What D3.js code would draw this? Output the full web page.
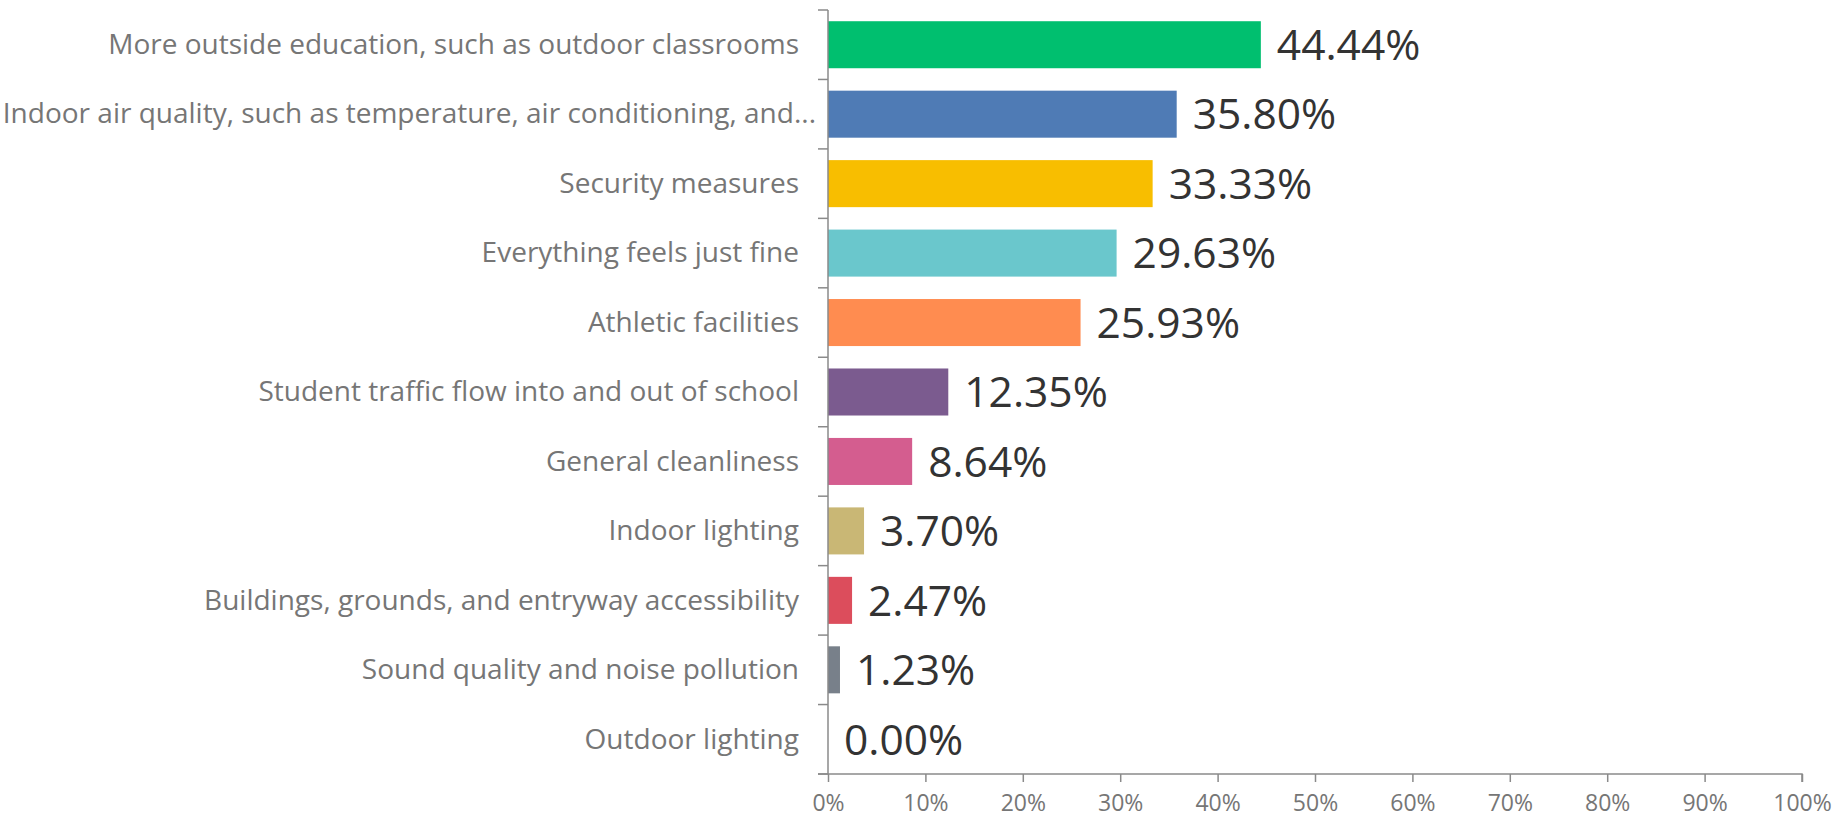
<!DOCTYPE html>
<html><head><meta charset="utf-8">
<script src="https://cdn.jsdelivr.net/npm/d3@7"></script>
<style>html,body{margin:0;padding:0;background:#fff;}svg{display:block;}</style>
</head><body>
<svg id="chart" width="1835" height="819"></svg>
<script>
const categories = [
  "More outside education, such as outdoor classrooms",
  "Indoor air quality, such as temperature, air conditioning, and...",
  "Security measures",
  "Everything feels just fine",
  "Athletic facilities",
  "Student traffic flow into and out of school",
  "General cleanliness",
  "Indoor lighting",
  "Buildings, grounds, and entryway accessibility",
  "Sound quality and noise pollution",
  "Outdoor lighting"
];
const values = [44.44, 35.80, 33.33, 29.63, 25.93, 12.35, 8.64, 3.70, 2.47, 1.23, 0.00];
const colors = ["#00BF6F","#4F7BB5","#F8BE00","#6AC7CC","#FF8C50","#7B5B8F","#D45D8F","#C9B775","#DC4D5C","#78808A","#9E9E9E"];
const tickValues = [0,10,20,30,40,50,60,70,80,90,100];

const W = 1835, H = 819;
const m = {left: 828, right: 33, top: 10, bottom: 45};
const svg = d3.select("#chart");
const font = "'Open Sans', sans-serif";

const x = d3.scaleLinear().domain([0,100]).range([m.left, W - m.right]);
const y = d3.scaleBand().domain(categories).range([m.top, H - m.bottom]).paddingInner(0.323).paddingOuter(0.1615);

const axisColor = "#8a8a8a";

// bars
svg.append("g").selectAll("rect").data(categories).join("rect")
  .attr("x", x(0))
  .attr("y", d => y(d))
  .attr("width", (d,i) => x(values[i]) - x(0))
  .attr("height", y.bandwidth())
  .attr("fill", (d,i) => colors[i]);

// value labels
svg.append("g").selectAll("text").data(categories).join("text")
  .attr("x", (d,i) => x(values[i]) + 16)
  .attr("y", d => y(d) + y.bandwidth()/2)
  .attr("dy", "0.36em")
  .attr("font-family", font)
  .attr("font-size", 42.5)
  .attr("fill", "#333333")
  .text((d,i) => values[i].toFixed(2) + "%");

// y axis
const yAxisG = svg.append("g");
const step = y.step();
const boundaries = d3.range(categories.length + 1).map(i => m.top + i * step);
yAxisG.append("line")
  .attr("x1", x(0)).attr("x2", x(0))
  .attr("y1", m.top).attr("y2", H - m.bottom)
  .attr("stroke", axisColor).attr("stroke-width", 1.5);
yAxisG.selectAll("line.tk").data(boundaries).join("line").attr("class","tk")
  .attr("x1", x(0) - 10).attr("x2", x(0))
  .attr("y1", d => d).attr("y2", d => d)
  .attr("stroke", axisColor).attr("stroke-width", 1.5);
yAxisG.selectAll("text").data(categories).join("text")
  .attr("x", d => d.endsWith("...") ? x(0) - 12 : x(0) - 29)
  .attr("y", d => y(d) + y.bandwidth()/2)
  .attr("dy", "0.33em")
  .attr("text-anchor", "end")
  .attr("font-family", font)
  .attr("font-size", 28)
  .attr("fill", "#767676")
  .text(d => d);

// x axis
const xAxis = d3.axisBottom(x).tickValues(tickValues).tickFormat(d => d + "%").tickSize(8).tickPadding(13);
const xg = svg.append("g").attr("transform", `translate(0,${H - m.bottom})`).call(xAxis);
xg.select(".domain").attr("stroke", axisColor).attr("stroke-width", 1.5).attr("d", `M${x(0)-10},0H${x(100)}V8`);
xg.selectAll(".tick line").attr("stroke", axisColor).attr("stroke-width", 1.5);
xg.selectAll(".tick text").attr("font-family", font).attr("font-size", 23).attr("fill", "#767676");
</script>
</body></html>
